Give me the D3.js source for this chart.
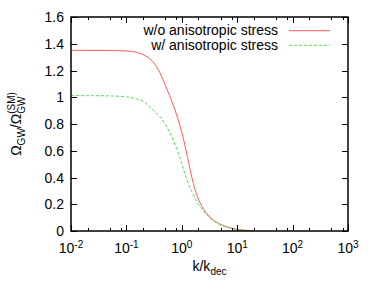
<!DOCTYPE html>
<meta charset="utf-8">
<script src="https://d3js.org/d3.v7.min.js"></script>
<style>
  body { margin: 0; background: #fff; }
  text { font-family: "Liberation Sans", Arial, sans-serif; fill: #000; }
</style>
<div id="chart"></div>
<script>

// k / k_dec sample points
var kValues = [0.01, 0.02, 0.05, 0.1, 0.15, 0.2, 0.3, 0.4, 0.5, 0.6, 0.7, 0.8, 0.9, 1.0, 1.1, 1.2, 1.35, 1.5, 1.75, 2, 2.5, 3, 4, 5, 7, 10, 15, 20];
var noStress = [1.351, 1.351, 1.35, 1.346, 1.336, 1.318, 1.266, 1.185, 1.093, 1.014, 0.942, 0.874, 0.807, 0.738, 0.668, 0.598, 0.498, 0.411, 0.304, 0.238, 0.16, 0.118, 0.073, 0.05, 0.027, 0.013, 0.005, 0.002];
var withStress = [1.012, 1.012, 1.01, 1.003, 0.988, 0.97, 0.905, 0.855, 0.8, 0.74, 0.68, 0.62, 0.56, 0.501, 0.447, 0.399, 0.343, 0.298, 0.243, 0.2, 0.145, 0.108, 0.067, 0.045, 0.024, 0.011, 0.004, 0.002];

var yTicks = [0, 0.2, 0.4, 0.6, 0.8, 1, 1.2, 1.4, 1.6];
var xDecades = [-2, -1, 0, 1, 2, 3];
var minorMult = [2, 5, 8];

var seriesNames = ["w/o anisotropic stress", "w/ anisotropic stress"];
var seriesColors = ["#ff5a5a", "#4ee04e"];

var margin = {top: 17, right: 26, bottom: 62, left: 71},
    width = 374 - margin.left - margin.right,
    height = 293 - margin.top - margin.bottom;

var svg = d3.select("#chart")
  .append("svg")
    .attr("width", 374)
    .attr("height", 293)
  .append("g")
    .attr("transform", "translate(" + margin.left + "," + margin.top + ")");

var x = d3.scaleLog()
  .domain([1e-2, 1e3])
  .range([0, width]);

var y = d3.scaleLinear()
  .domain([0, 1.6])
  .range([height, 0]);

// curves
var line = d3.line()
  .x(function(d) { return x(d[0]); })
  .y(function(d) { return y(d[1]); })
  .curve(d3.curveMonotoneX);

svg.append("path")
  .datum(kValues.map(function(k, i) { return [k, noStress[i]]; }))
  .attr("fill", "none")
  .attr("stroke", seriesColors[0])
  .attr("stroke-width", 1)
  .attr("d", line);

svg.append("path")
  .datum(kValues.map(function(k, i) { return [k, withStress[i]]; }))
  .attr("fill", "none")
  .attr("stroke", seriesColors[1])
  .attr("stroke-width", 1)
  .attr("stroke-dasharray", "3,2")
  .attr("d", line);

// ticks, inward and mirrored like gnuplot
var majorX = xDecades.map(function(e) { return Math.pow(10, e); });
var minorX = [];
xDecades.slice(0, -1).forEach(function(e) {
  minorMult.forEach(function(m) { minorX.push(m * Math.pow(10, e)); });
});

var ticks = svg.append("g").attr("stroke", "#000").attr("stroke-width", 1);

majorX.concat(minorX).forEach(function(v) {
  var len = majorX.indexOf(v) >= 0 ? 6 : 3;
  var px = Math.round(x(v)) + 0.5;
  ticks.append("line").attr("x1", px).attr("x2", px).attr("y1", height).attr("y2", height - len);
  ticks.append("line").attr("x1", px).attr("x2", px).attr("y1", 0).attr("y2", len);
});

yTicks.forEach(function(v) {
  var py = Math.round(y(v)) + 0.5;
  ticks.append("line").attr("x1", 0).attr("x2", 6).attr("y1", py).attr("y2", py);
  ticks.append("line").attr("x1", width).attr("x2", width - 6).attr("y1", py).attr("y2", py);
});

svg.append("rect")
  .attr("width", width)
  .attr("height", height)
  .attr("fill", "none")
  .attr("stroke", "#000")
  .attr("stroke-width", 1.5);

// y tick labels
svg.append("g")
  .selectAll("text")
  .data(yTicks)
  .enter()
  .append("text")
    .attr("x", -7)
    .attr("y", function(d) { return y(d); })
    .attr("dy", "0.36em")
    .attr("text-anchor", "end")
    .attr("font-size", "14px")
    .text(function(d) { return d; });

// x tick labels 10^n
var xl = svg.append("g")
  .selectAll("text")
  .data(xDecades)
  .enter()
  .append("text")
    .attr("x", function(d) { return x(Math.pow(10, d)); })
    .attr("y", height + 21.5)
    .attr("text-anchor", "middle")
    .attr("font-size", "14px");
xl.append("tspan").text("10");
xl.append("tspan")
  .attr("font-size", "10px")
  .attr("dy", -5)
  .text(function(d) { return d; });

// x axis label
var xt = svg.append("text")
  .attr("x", width / 2)
  .attr("y", height + 40)
  .attr("text-anchor", "middle")
  .attr("font-size", "14px");
xt.append("tspan").text("k/k");
xt.append("tspan").attr("font-size", "10px").attr("dy", 4).text("dec");

// y axis label
var yt = svg.append("text")
  .attr("transform", "translate(" + (21 - margin.left) + "," + (height / 2) + ") rotate(-90)")
  .attr("text-anchor", "middle")
  .attr("font-size", "14px");
yt.append("tspan").text("\u03A9");
yt.append("tspan").attr("font-size", "10px").attr("dy", 4).text("GW");
yt.append("tspan").attr("dy", -4).text("/\u03A9");
var sub2 = yt.append("tspan").attr("font-size", "10px").attr("dy", 4).text("GW");
var subW = sub2.node().getComputedTextLength();
yt.append("tspan").attr("font-size", "10px").attr("dx", -subW).attr("dy", -10).text("(SM)");

// legend
var legend = svg.append("g");
seriesNames.forEach(function(name, i) {
  var ly = 13.7 + i * 14.6;
  legend.append("text")
    .attr("x", 207)
    .attr("y", ly)
    .attr("dy", "0.33em")
    .attr("text-anchor", "end")
    .attr("font-size", "14px")
    .text(name);
  legend.append("line")
    .attr("x1", 218)
    .attr("x2", 259)
    .attr("y1", ly)
    .attr("y2", ly)
    .attr("stroke", seriesColors[i])
    .attr("stroke-width", 1)
    .attr("stroke-dasharray", i === 1 ? "3,2" : null);
});

</script>
